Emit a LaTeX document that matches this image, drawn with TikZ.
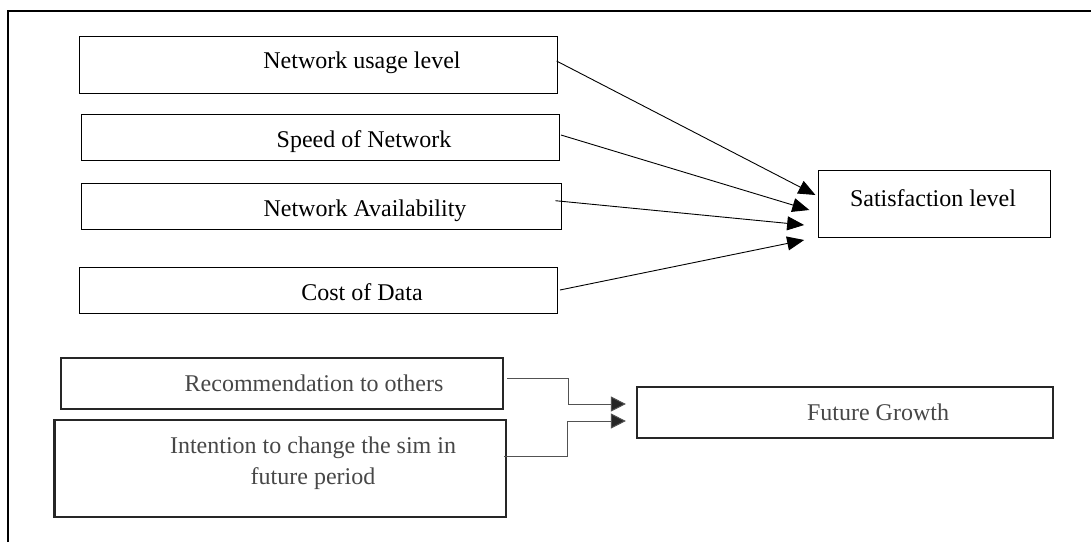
\documentclass[tikz,border=0pt]{standalone}
\usepackage{fontspec}
\setmainfont{Liberation Serif}
\usetikzlibrary{arrows.meta,calc}
\begin{document}
\begin{tikzpicture}[x=1pt,y=-1pt,
  box/.style={draw=black, line width=0.9pt, inner sep=0pt},
  heavybox/.style={draw=black!85, line width=2.2pt, inner sep=0pt},
  lbl/.style={anchor=base, inner sep=0pt, font=\fontsize{24}{28}\selectfont},
  greylbl/.style={lbl, text=black!72},
  link/.style={line width=0.9pt, -{Triangle[length=17pt,width=14pt]}},
  elbow/.style={draw=black!68, line width=1pt, -{Triangle[length=15pt,width=15pt,fill=black!85]}}]
\useasboundingbox (0,0) rectangle (1091,542);

% frame
\draw[line width=2pt] (8.3,542) -- (8.3,10.7) -- (1091,10.7);

% factor boxes
\node[box, minimum width=478pt,   minimum height=57.3pt] (usage) at (318.2,64.65) {};
\node[box, minimum width=478pt,   minimum height=46pt]   (speed) at (320.5,137.7) {};
\node[box, minimum width=480.3pt, minimum height=46.4pt] (avail) at (321.65,206.5) {};
\node[box, minimum width=478pt,   minimum height=46.4pt] (cost)  at (318.2,290.5) {};
\node[box, minimum width=232pt,   minimum height=67pt]   (sat)   at (934,203.5) {};

\node[lbl] (usagetxt) at (362,68.3) {Network usage level};
\node[lbl] (speedtxt) at (364,147) {Speed of Network};
\node[lbl] (availtxt) at (365,216) {Network Availability};
\node[lbl] (costtxt)  at (362,300) {Cost of Data};
\node[lbl] (sattxt)   at (933,206) {Satisfaction level};

% arrow tips at the satisfaction box
\coordinate (t1) at ($(sat.west)+(-2.1,-8.5)$);
\coordinate (t2) at ($(sat.west)+(-8.2,6.5)$);
\coordinate (t3) at ($(sat.west)+(-13.4,21.5)$);
\coordinate (t4) at ($(sat.west)+(-13.4,36.5)$);

\draw[link] ($(usage.east)+(-1,-3.6)$) -- (t1);
\draw[link] ($(speed.east)+(1,-2.7)$) -- (t2);
\draw[link] ($(avail.east)+(-6.8,-5.8)$) -- (t3);
\draw[link] ($(cost.east)+(2.3,-0.5)$) -- (t4);

% growth group
\node[heavybox, minimum width=442pt,   minimum height=51pt]   (rec)    at (282,383.5) {};
\node[heavybox, minimum width=451.5pt, minimum height=96.7pt] (intent) at (280.25,468.35) {};
\node[heavybox, minimum width=416pt,   minimum height=51pt]   (growth) at (845,412.5) {};

\node[greylbl] (rectxt)     at (314,391) {Recommendation to others};
\node[greylbl] (intenttxta) at (313,453.5) {Intention to change the sim in};
\node[greylbl] (intenttxtb) at (313,484.5) {future period};
\node[greylbl] (growthtxt)  at (878,420) {Future Growth};

\coordinate (g1) at ($(growth.west)+(-10,-8.5)$);
\coordinate (g2) at ($(growth.west)+(-10,8.5)$);

\draw[elbow] ($(rec.east)+(3,-5.5)$) -- ++(61,0) |- (g1);
\draw[elbow] ($(intent.east)+(-3,-12.35)$) -- ++(63,0) |- (g2);
\end{tikzpicture}
\end{document}
